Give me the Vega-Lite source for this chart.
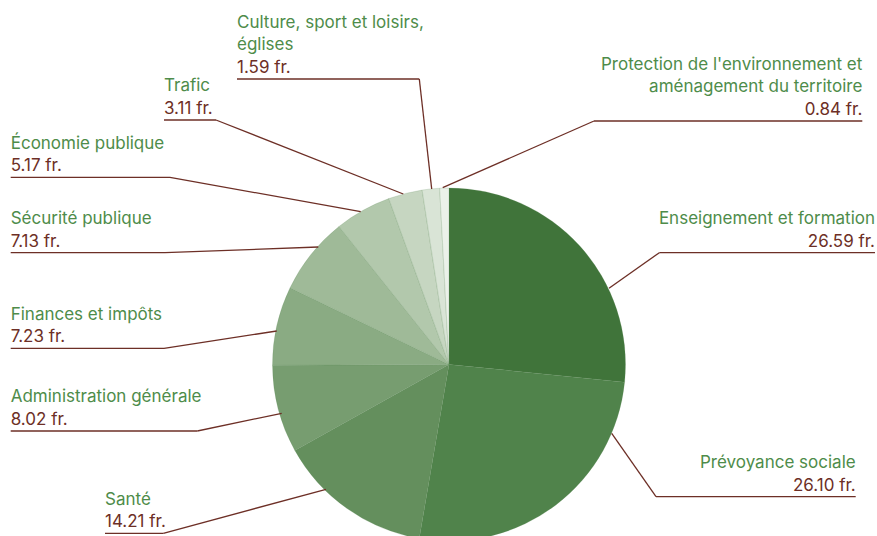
{
  "$schema": "https://vega.github.io/schema/vega-lite/v6.json",
  "width": 877,
  "height": 536,
  "autosize": {"type": "fit", "contains": "padding"},
  "padding": 0,
  "background": "white",
  "config": {"view": {"stroke": null}, "text": {"font": "Inter", "fontSize": 17, "lineHeight": 22.7}},
  "datasets": {
    "budget": [
      {"order": 1, "category": "Enseignement et formation", "label": "Enseignement et formation", "value": 26.59, "side": "R", "lx": 875, "ly": 252.7, "bx": 659.3, "ex": 609, "ey": 288.3},
      {"order": 2, "category": "Prévoyance sociale", "label": "Prévoyance sociale", "value": 26.10, "side": "R", "lx": 855.7, "ly": 496.7, "bx": 656, "ex": 611.7, "ey": 433.3},
      {"order": 3, "category": "Santé", "label": "Santé", "value": 14.21, "side": "L", "lx": 105, "ly": 533.3, "bx": 163.3, "ex": 326, "ey": 489.3},
      {"order": 4, "category": "Administration générale", "label": "Administration générale", "value": 8.02, "side": "L", "lx": 10.7, "ly": 431, "bx": 197.3, "ex": 281.7, "ey": 413.3},
      {"order": 5, "category": "Finances et impôts", "label": "Finances et impôts", "value": 7.23, "side": "L", "lx": 10.7, "ly": 348.3, "bx": 164, "ex": 276.7, "ey": 331},
      {"order": 6, "category": "Sécurité publique", "label": "Sécurité publique", "value": 7.13, "side": "L", "lx": 10.7, "ly": 252.7, "bx": 165, "ex": 318.3, "ey": 247},
      {"order": 7, "category": "Économie publique", "label": "Économie publique", "value": 5.17, "side": "L", "lx": 10.7, "ly": 177.3, "bx": 170, "ex": 360.7, "ey": 211.7},
      {"order": 8, "category": "Trafic", "label": "Trafic", "value": 3.11, "side": "L", "lx": 164, "ly": 120, "bx": 216, "ex": 403.3, "ey": 194},
      {"order": 9, "category": "Culture, sport et loisirs, églises", "label": "Culture, sport et loisirs,\néglises", "value": 1.59, "side": "L", "lx": 237, "ly": 79, "bx": 419.3, "ex": 431.7, "ey": 189},
      {"order": 10, "category": "Protection de l'environnement et aménagement du territoire", "label": "Protection de l'environnement et\naménagement du territoire", "value": 0.84, "side": "R", "lx": 862.3, "ly": 121, "bx": 594, "ex": 442.7, "ey": 187.7}
    ]
  },
  "data": {"name": "budget"},
  "transform": [
    {"calculate": "format(datum.value, '.2f') + ' fr.'", "as": "valueLabel"},
    {"calculate": "length(split(datum.label, '\\n'))", "as": "nLines"}
  ],
  "resolve": {"scale": {"color": "independent"}},
  "layer": [
    {
      "mark": {"type": "arc", "radius": 176.5, "stroke": "#5f8a58", "strokeWidth": 0.4, "strokeOpacity": 0.5},
      "encoding": {
        "theta": {"field": "value", "type": "quantitative", "stack": true},
        "order": {"field": "order", "type": "quantitative"},
        "x": {"datum": 449, "type": "quantitative", "scale": {"domain": [0, 877], "range": [0, 877], "nice": false, "zero": false}, "axis": null},
        "y": {"datum": 364.5, "type": "quantitative", "scale": {"domain": [0, 536], "range": [0, 536], "nice": false, "zero": false}, "axis": null},
        "color": {
          "field": "category", "type": "nominal", "legend": null,
          "sort": {"field": "order"},
          "scale": {
            "domain": ["Enseignement et formation", "Prévoyance sociale", "Santé", "Administration générale", "Finances et impôts", "Sécurité publique", "Économie publique", "Trafic", "Culture, sport et loisirs, églises", "Protection de l'environnement et aménagement du territoire"],
            "range": ["#40743a", "#50834b", "#648f5d", "#779d70", "#8aab83", "#9fba98", "#b2c8ac", "#c6d6c1", "#d9e4d6", "#ebf1e9"]
          }
        }
      }
    },
    {
      "mark": {"type": "rule", "color": "#6d2f26", "strokeWidth": 1.3},
      "encoding": {
        "x": {"field": "ex", "type": "quantitative"},
        "y": {"field": "ey", "type": "quantitative"},
        "x2": {"field": "bx"},
        "y2": {"field": "ly"}
      }
    },
    {
      "mark": {"type": "rule", "color": "#6d2f26", "strokeWidth": 1.3},
      "encoding": {
        "x": {"field": "lx", "type": "quantitative"},
        "y": {"field": "ly", "type": "quantitative"},
        "x2": {"field": "bx"}
      }
    },
    {
      "transform": [{"filter": "datum.side === 'L'"}],
      "mark": {"type": "text", "align": "left", "baseline": "alphabetic", "dy": -6, "color": "#6d2f26"},
      "encoding": {
        "x": {"field": "lx", "type": "quantitative"},
        "y": {"field": "ly", "type": "quantitative"},
        "text": {"field": "valueLabel"}
      }
    },
    {
      "transform": [{"filter": "datum.side === 'R'"}],
      "mark": {"type": "text", "align": "right", "baseline": "alphabetic", "dy": -6, "color": "#6d2f26"},
      "encoding": {
        "x": {"field": "lx", "type": "quantitative"},
        "y": {"field": "ly", "type": "quantitative"},
        "text": {"field": "valueLabel"}
      }
    },
    {
      "transform": [{"filter": "datum.side === 'L' && datum.nLines === 1"}],
      "mark": {"type": "text", "align": "left", "baseline": "alphabetic", "dy": -28.7, "color": "#4e8c4a", "lineBreak": "\n"},
      "encoding": {
        "x": {"field": "lx", "type": "quantitative"},
        "y": {"field": "ly", "type": "quantitative"},
        "text": {"field": "label"}
      }
    },
    {
      "transform": [{"filter": "datum.side === 'L' && datum.nLines === 2"}],
      "mark": {"type": "text", "align": "left", "baseline": "alphabetic", "dy": -51.4, "color": "#4e8c4a", "lineBreak": "\n"},
      "encoding": {
        "x": {"field": "lx", "type": "quantitative"},
        "y": {"field": "ly", "type": "quantitative"},
        "text": {"field": "label"}
      }
    },
    {
      "transform": [{"filter": "datum.side === 'R' && datum.nLines === 1"}],
      "mark": {"type": "text", "align": "right", "baseline": "alphabetic", "dy": -28.7, "color": "#4e8c4a", "lineBreak": "\n"},
      "encoding": {
        "x": {"field": "lx", "type": "quantitative"},
        "y": {"field": "ly", "type": "quantitative"},
        "text": {"field": "label"}
      }
    },
    {
      "transform": [{"filter": "datum.side === 'R' && datum.nLines === 2"}],
      "mark": {"type": "text", "align": "right", "baseline": "alphabetic", "dy": -51.4, "color": "#4e8c4a", "lineBreak": "\n"},
      "encoding": {
        "x": {"field": "lx", "type": "quantitative"},
        "y": {"field": "ly", "type": "quantitative"},
        "text": {"field": "label"}
      }
    }
  ]
}
